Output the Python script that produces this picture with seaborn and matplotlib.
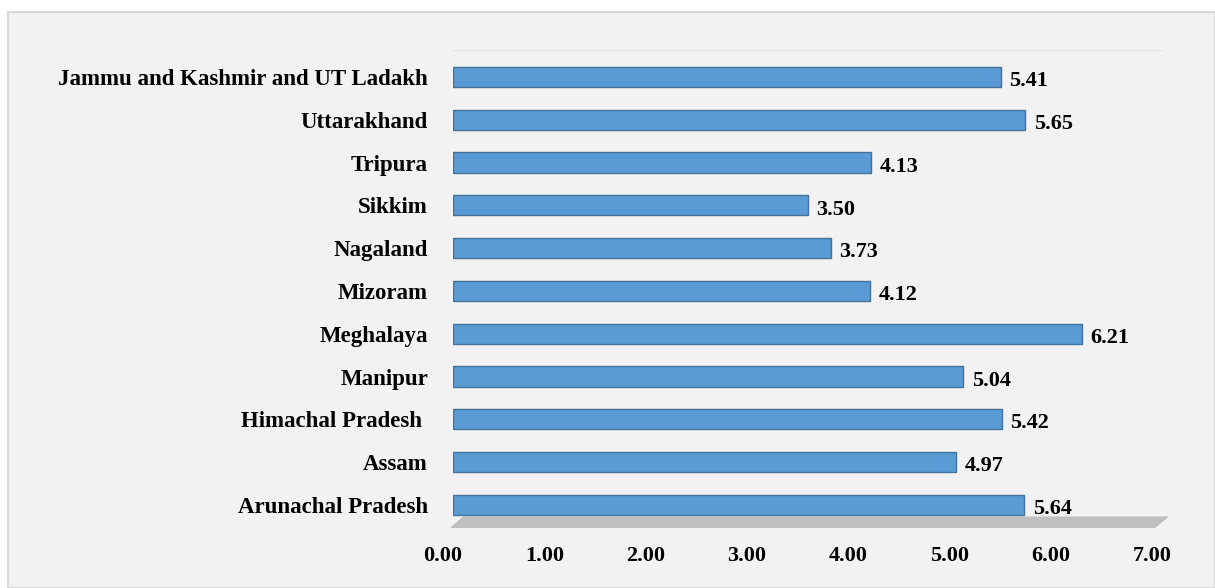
import matplotlib
matplotlib.use("Agg")
from matplotlib import pyplot as plt
from matplotlib.patches import Rectangle, Polygon
import matplotlib.transforms as mtransforms
import pandas as pd
import seaborn as sns

states = ["Jammu and Kashmir and UT Ladakh", "Uttarakhand", "Tripura", "Sikkim",
          "Nagaland", "Mizoram", "Meghalaya", "Manipur", "Himachal Pradesh ",
          "Assam", "Arunachal Pradesh"]
values = [5.41, 5.65, 4.13, 3.50, 3.73, 4.12, 6.21, 5.04, 5.42, 4.97, 5.64]
xticks = [0, 1, 2, 3, 4, 5, 6, 7]

df = pd.DataFrame({"State": states, "Value": values})

sns.set_style("white")
plt.rcParams['font.family'] = ['Liberation Serif', 'DejaVu Serif']
plt.rcParams['font.weight'] = 'bold'
plt.rcParams['text.color'] = 'black'
plt.rcParams['xtick.color'] = 'black'
plt.rcParams['ytick.color'] = 'black'

fig = plt.figure(figsize=(12.15, 5.88), dpi=100, facecolor="white")
# grey chart panel
fig.patches.append(Rectangle((8 / 1215, 0), 1 - 8 / 1215, (588 - 12) / 588,
                             transform=fig.transFigure, facecolor="#f2f2f2",
                             edgecolor="#d9d9d9", linewidth=1.5, zorder=-5))

ax = fig.add_axes([453 / 1215, 60 / 588, 709 / 1215, 478 / 588])
ax.set_facecolor("none")

sns.barplot(data=df, x="Value", y="State", orient="h", color="#5b9bd5",
            saturation=1, width=0.47, edgecolor="#41719c", linewidth=1.0, ax=ax)

labels = ax.bar_label(ax.containers[0], fmt="%.2f", padding=6, fontsize=16,
                      fontweight="bold", color="black")
# value labels sit a little below the bar centre
for t in labels:
    t.xyann = (t.xyann[0], -3)

ax.set_xlim(0, 7)
ax.set_ylim(10.54, -0.63)
ax.set_xticks(xticks)
ax.set_xticklabels([f"{t:.2f}" for t in xticks], fontsize=16, fontweight="bold")
ax.tick_params(axis="x", length=0, pad=13)
ax.tick_params(axis="y", length=0, pad=18, labelsize=16.5)
for lab in ax.get_yticklabels():
    lab.set_fontweight("bold")
offset = mtransforms.ScaledTranslation(-0.1, 0, fig.dpi_scale_trans)
for lab in ax.get_xticklabels():
    lab.set_transform(lab.get_transform() + offset)

# floor of the 3D plot area
ax.add_patch(Polygon([(-0.03, 10.54), (6.93, 10.54), (7.07, 10.27), (0.1, 10.27)],
                     closed=True, facecolor="#bfbfbf", edgecolor="none",
                     clip_on=False, zorder=0))

for side in ["left", "right", "bottom"]:
    ax.spines[side].set_visible(False)
ax.spines["top"].set_color("#e6e6e6")
ax.set_xlabel("")
ax.set_ylabel("")

fig.savefig("out.png", dpi=100, facecolor=fig.get_facecolor())
